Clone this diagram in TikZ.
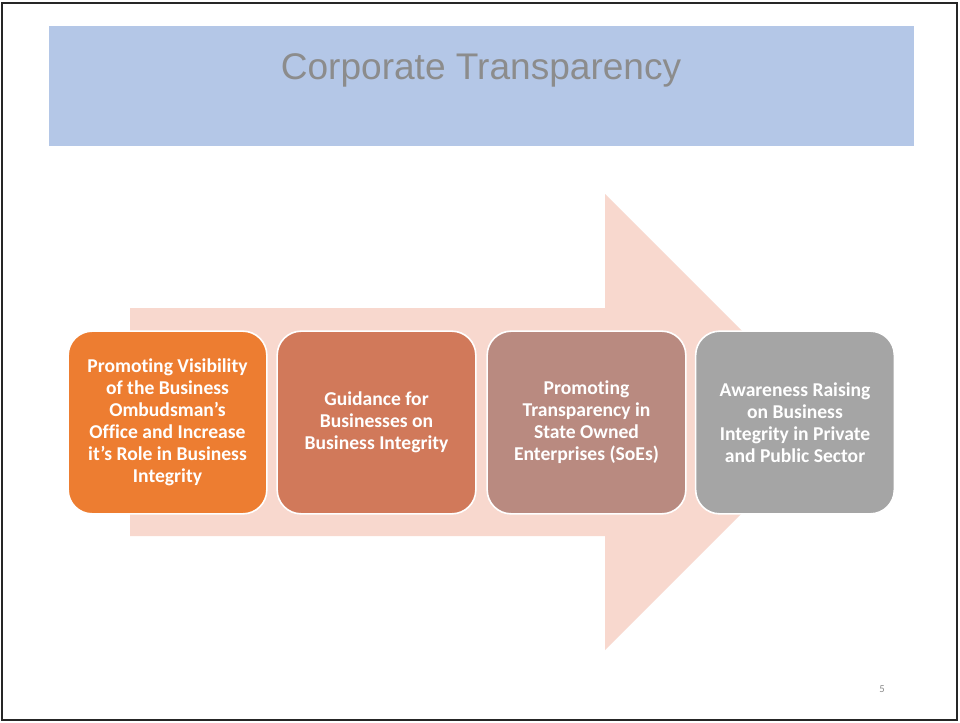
\documentclass[tikz,border=0pt]{standalone}
\usepackage{fontspec}
\setmainfont{Carlito}[Ligatures=NoCommon]
\newfontfamily\titlefont{Liberation Sans}
\definecolor{titlebg}{HTML}{B4C7E7}
\definecolor{titlefg}{HTML}{8C8C8C}
\definecolor{arrowc}{HTML}{F8D8CE}
\definecolor{cA}{HTML}{ED7D31}
\definecolor{cB}{HTML}{D1795A}
\definecolor{cC}{HTML}{B98A80}
\definecolor{cD}{HTML}{A5A5A5}
\definecolor{framec}{HTML}{262626}
\tikzset{
  stepbox/.style={draw=white, line width=1.2pt, rounded corners=18pt, minimum width=149pt, minimum height=137pt, align=center, text=white, font=\bfseries\fontsize{14.7pt}{16.5pt}\selectfont, inner sep=0pt},
}
\begin{document}
\begin{tikzpicture}[x=0.75pt, y=-0.75pt]
\useasboundingbox (0,0) rectangle (960,722);
\fill[white] (0,0) rectangle (960,722);
\draw[framec, line width=2pt] (2,3) rectangle (957,720);
\fill[titlebg] (49,26) rectangle (914,146);
\node[text=titlefg, font=\titlefont\fontsize{27.8pt}{33pt}\selectfont, anchor=base] (title) at (481,79) {Corporate Transparency};
\fill[arrowc] (130,308) -- (605,308) -- (605,194) -- (833,422) -- (605,650) -- (605,536) -- (130,536) -- cycle;
\node[stepbox, fill=cA] (b1) at (167.5,422.5) {Promoting Visibility\\of the Business\\Ombudsman’s\\Office and Increase\\it’s Role in Business\\Integrity};
\node[stepbox, fill=cB] (b2) at (376.5,422.5) {Guidance for\\Businesses on\\Business Integrity};
\node[stepbox, fill=cC] (b3) at (586.5,422.5) {Promoting\\Transparency in\\State Owned\\Enterprises (SoEs)};
\node[stepbox, fill=cD] (b4) at (795,422.5) {Awareness Raising\\on Business\\Integrity in Private\\and Public Sector};
\node[text=titlefg, font=\fontsize{8pt}{9pt}\selectfont] (pg) at (882,689) {5};
\end{tikzpicture}
\end{document}
